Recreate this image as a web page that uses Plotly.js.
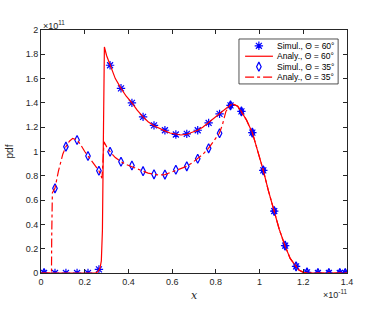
<!DOCTYPE html>
<html><head><meta charset="utf-8">
<script src="https://cdn.plot.ly/plotly-3.0.1.min.js"></script>
<style>html,body{margin:0;padding:0;background:#fff}</style>
</head><body>
<div id="chart" style="width:374px;height:313px"></div>
<script>
// Simulation sample positions (x in units of 1e-11)
const simX = [0.014, 0.064, 0.114, 0.165, 0.215, 0.265, 0.316, 0.366, 0.416, 0.467, 0.517, 0.567, 0.617, 0.667, 0.717, 0.767, 0.817, 0.867, 0.917, 0.967, 1.017, 1.067, 1.117, 1.167, 1.217, 1.267, 1.317, 1.367, 1.392];
// Simulated pdf values (units of 1e11)
const sim60 = [0, 0, 0, 0, 0, 0.03, 1.71, 1.52, 1.40, 1.285, 1.215, 1.175, 1.14, 1.145, 1.175, 1.235, 1.31, 1.38, 1.33, 1.155, 0.845, 0.51, 0.225, 0.055, 0.005, 0, 0, 0, 0];
const sim35 = [0, 0.697, 1.04, 1.095, 0.963, 0.842, 0.998, 0.916, 0.885, 0.838, 0.812, 0.81, 0.85, 0.878, 0.94, 1.026, 1.15, 1.38, 1.33, 1.155, 0.845, 0.51, 0.225, 0.055, 0.005, 0, 0, 0, 0];

// Analytical curve, Theta = 60 deg
const ana60X = [0, 0.25, 0.26, 0.27, 0.276, 0.281, 0.286, 0.29, 0.30, 0.316, 0.34, 0.366, 0.39, 0.416, 0.44, 0.467, 0.49, 0.517, 0.54, 0.567, 0.59, 0.617, 0.64, 0.667, 0.69, 0.717, 0.74, 0.766, 0.79, 0.816, 0.84, 0.866, 0.88, 0.9, 0.916, 0.94, 0.967, 0.99, 1.017, 1.04, 1.067, 1.09, 1.116, 1.14, 1.166, 1.18, 1.2, 1.22, 1.4];
const ana60Y = [0, 0, 0.01, 0.04, 0.1, 0.35, 1.2, 1.86, 1.79, 1.71, 1.60, 1.52, 1.455, 1.40, 1.34, 1.285, 1.245, 1.212, 1.19, 1.17, 1.152, 1.14, 1.136, 1.142, 1.155, 1.175, 1.2, 1.238, 1.275, 1.315, 1.35, 1.382, 1.39, 1.372, 1.33, 1.26, 1.155, 1.02, 0.845, 0.68, 0.51, 0.36, 0.225, 0.12, 0.056, 0.025, 0.005, 0, 0];

// Analytical curve, Theta = 35 deg
const ana35X = [0, 0.048, 0.049, 0.052, 0.064, 0.08, 0.1, 0.114, 0.13, 0.145, 0.165, 0.18, 0.2, 0.215, 0.24, 0.265, 0.272, 0.279, 0.283, 0.288, 0.3, 0.316, 0.34, 0.366, 0.39, 0.416, 0.44, 0.467, 0.49, 0.517, 0.54, 0.567, 0.59, 0.617, 0.64, 0.667, 0.69, 0.717, 0.74, 0.766, 0.79, 0.816, 0.83, 0.846, 0.866, 0.88, 0.9, 0.916, 0.94, 0.967, 0.99, 1.017, 1.04, 1.067, 1.09, 1.116, 1.14, 1.166, 1.18, 1.2, 1.22, 1.4];
const ana35Y = [0, 0, 0.3, 0.66, 0.70, 0.84, 0.98, 1.04, 1.085, 1.108, 1.095, 1.06, 1.0, 0.962, 0.895, 0.842, 0.81, 0.78, 0.9, 1.08, 1.04, 0.998, 0.95, 0.916, 0.893, 0.875, 0.855, 0.838, 0.822, 0.812, 0.806, 0.81, 0.825, 0.847, 0.86, 0.878, 0.905, 0.94, 0.975, 1.026, 1.085, 1.15, 1.22, 1.33, 1.382, 1.39, 1.372, 1.33, 1.26, 1.155, 1.02, 0.845, 0.68, 0.51, 0.36, 0.225, 0.12, 0.056, 0.025, 0.005, 0, 0];

const xTicks = [0, 0.2, 0.4, 0.6, 0.8, 1, 1.2, 1.4];
const xTickText = ['0', '0.2', '0.4', '0.6', '0.8', '1', '1.2', '1.4'];
const yTicks = [0, 0.2, 0.4, 0.6, 0.8, 1, 1.2, 1.4, 1.6, 1.8, 2];
const yTickText = ['0', '0.2', '0.4', '0.6', '0.8', '1', '1.2', '1.4', '1.6', '1.8', '2'];

const legendNames = ['Simul., Θ = 60°', 'Analy., Θ = 60°', 'Simul., Θ = 35°', 'Analy., Θ = 35°'];

const blue = 'rgb(0,0,255)';
const red = 'rgb(255,0,0)';
const font = 'Liberation Sans, Arial, sans-serif';
const axisCol = '#262626';

const starMarker = {symbol: 'asterisk-open', size: 7, color: blue, line: {color: blue, width: 1.2}};
const diamondMarker = {symbol: 'diamond-tall-open', size: 6.5, color: blue, line: {color: blue, width: 1.2}};

// Legend layout (paper fractions of the plot area)
const lgX0 = 0.647, lgX1 = 0.971, lgY0 = 0.778, lgY1 = 0.963;
const lgRows = [0.935, 0.892, 0.849, 0.806];
const lgLineX0 = 0.667, lgLineX1 = 0.758, lgMarkX = 0.712, lgTextX = 0.766;

const traces = [
  {x: simX, y: sim60, mode: 'markers', name: legendNames[0], marker: starMarker},
  {x: ana60X, y: ana60Y, mode: 'lines', name: legendNames[1], line: {color: red, width: 1.2}},
  {x: simX, y: sim35, mode: 'markers', name: legendNames[2], marker: diamondMarker},
  {x: ana35X, y: ana35Y, mode: 'lines', name: legendNames[3], line: {color: red, width: 1.2, dash: 'dashdot'}},
  // legend marker samples on an overlay axis in plot-fraction units
  {x: [lgMarkX], y: [lgRows[0]], xaxis: 'x2', yaxis: 'y2', mode: 'markers', marker: starMarker, showlegend: false},
  {x: [lgMarkX], y: [lgRows[2]], xaxis: 'x2', yaxis: 'y2', mode: 'markers', marker: diamondMarker, showlegend: false}
];

const shapes = [
  {type: 'rect', xref: 'paper', yref: 'paper', x0: lgX0, x1: lgX1, y0: lgY0, y1: lgY1,
   line: {color: axisCol, width: 0.8}, fillcolor: '#fff', layer: 'below'},
  {type: 'line', xref: 'paper', yref: 'paper', x0: lgLineX0, x1: lgLineX1, y0: lgRows[1], y1: lgRows[1],
   line: {color: red, width: 1.2}},
  {type: 'line', xref: 'paper', yref: 'paper', x0: lgLineX0, x1: lgLineX1, y0: lgRows[3], y1: lgRows[3],
   line: {color: red, width: 1.2, dash: 'dashdot'}}
];

const annotations = legendNames.map((t, i) => ({
  xref: 'paper', yref: 'paper', x: lgTextX, y: lgRows[i], xanchor: 'left', yanchor: 'middle',
  text: t, showarrow: false, font: {family: font, size: 8.5, color: '#000'}
}));
annotations.push(
  {xref: 'paper', yref: 'paper', x: 0, y: 1, xanchor: 'left', yanchor: 'bottom',
   text: '×10<sup>11</sup>', showarrow: false, font: {size: 9, color: axisCol}, yshift: -3},
  {xref: 'paper', yref: 'paper', x: 1, y: 0, xanchor: 'right', yanchor: 'top',
   text: '×10<sup>-11</sup>', showarrow: false, font: {size: 9, color: axisCol}, yshift: -13, xshift: 2}
);

const layout = {
  width: 374, height: 313,
  margin: {l: 41, r: 27, t: 30, b: 40, pad: 0},
  paper_bgcolor: '#fff', plot_bgcolor: '#fff',
  font: {family: font, size: 9, color: axisCol},
  showlegend: false,
  xaxis: {range: [0, 1.4], tickvals: xTicks, ticktext: xTickText,
    ticks: 'inside', ticklen: 4, tickcolor: axisCol, showline: true, linecolor: axisCol,
    linewidth: 1, mirror: 'ticks', showgrid: false, zeroline: false,
    tickfont: {size: 9, color: axisCol},
    title: {text: '<i>x</i>', font: {family: 'DejaVu Serif, serif', size: 11, color: axisCol}, standoff: 5}},
  yaxis: {range: [0, 2], tickvals: yTicks, ticktext: yTickText,
    ticks: 'inside', ticklen: 4, tickcolor: axisCol, showline: true, linecolor: axisCol,
    linewidth: 1, mirror: 'ticks', showgrid: false, zeroline: false,
    tickfont: {size: 9, color: axisCol},
    title: {text: 'pdf', font: {size: 10, color: axisCol}, standoff: 10}},
  xaxis2: {range: [0, 1], overlaying: 'x', visible: false, fixedrange: true},
  yaxis2: {range: [0, 1], overlaying: 'y', visible: false, fixedrange: true},
  shapes: shapes,
  annotations: annotations
};

Plotly.newPlot('chart', traces, layout, {displayModeBar: false, staticPlot: true});
</script>
</body></html>
